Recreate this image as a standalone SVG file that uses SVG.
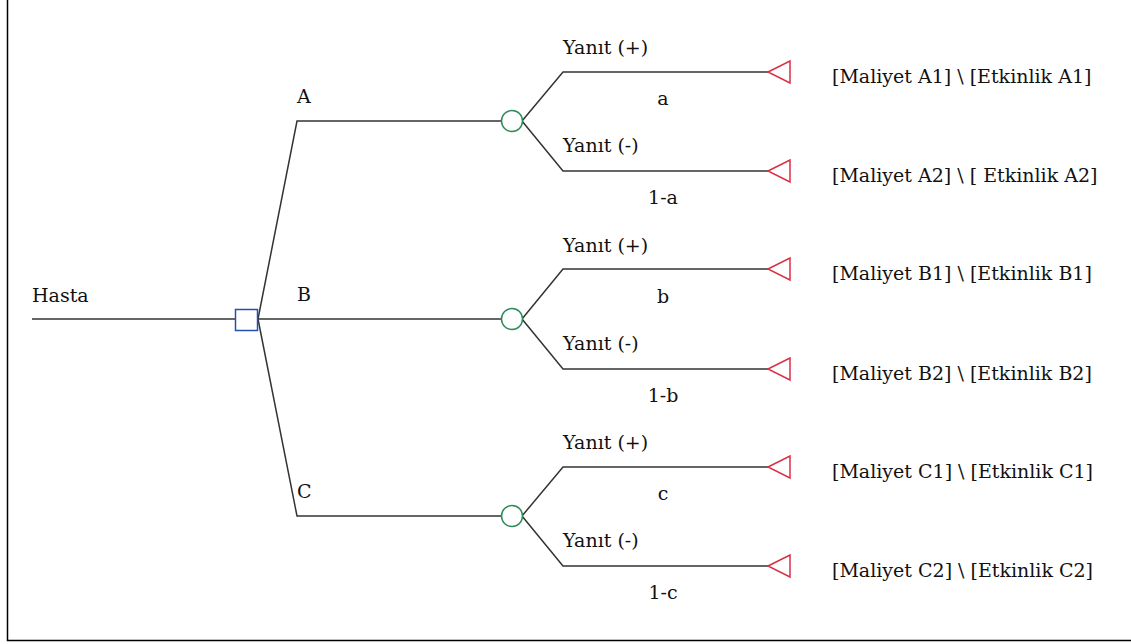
<svg xmlns="http://www.w3.org/2000/svg" width="1131" height="644" viewBox="0 0 1131 644">
<style>
text{font-family:"DejaVu Serif","Liberation Serif",serif;font-size:19px;fill:#111}
.ln{fill:none;stroke:#333;stroke-width:1.5}
.chance{fill:#fff;stroke:#2e8b57;stroke-width:1.5}
.term{fill:#fff;stroke:#d93045;stroke-width:1.5}
.dec{fill:#fff;stroke:#2450b4;stroke-width:1.5}
.mid{text-anchor:middle}
</style>
<g id="frame"><path d="M7.5,0 V640.5 H1131" fill="none" stroke="#000" stroke-width="1.5"/></g>
<g id="connectors">
<path class="ln" d="M32,319 H235"/>
<path class="ln" d="M258,319 L297,121 H502"/>
<path class="ln" d="M258,319 H502"/>
<path class="ln" d="M258,319 L297,516 H502"/>
<path class="ln" d="M522,121 L563,72 H768 M522,121 L563,171 H768"/>
<path class="ln" d="M522,319 L563,269 H768 M522,319 L563,369 H768"/>
<path class="ln" d="M522,516 L563,467 H768 M522,516 L563,566 H768"/>
</g>
<g id="root"><text x="32" y="302">Hasta</text></g>
<g id="decision"><rect class="dec" x="235.5" y="309.5" width="22" height="21"/></g>
<g id="branch-labels">
<text x="297" y="103">A</text>
<text x="297" y="301">B</text>
<text x="297" y="498">C</text>
</g>
<g id="chanceA">
<circle class="chance" cx="512" cy="121" r="10.5"/>
<text x="563" y="54">Yanıt (+)</text>
<text class="mid" x="663" y="105">a</text>
<text x="563" y="152">Yanıt (-)</text>
<text class="mid" x="663" y="204">1-a</text>
</g>
<g id="chanceB">
<circle class="chance" cx="512" cy="319" r="10.5"/>
<text x="563" y="252">Yanıt (+)</text>
<text class="mid" x="663" y="303">b</text>
<text x="563" y="350">Yanıt (-)</text>
<text class="mid" x="663" y="402">1-b</text>
</g>
<g id="chanceC">
<circle class="chance" cx="512" cy="516" r="10.5"/>
<text x="563" y="449">Yanıt (+)</text>
<text class="mid" x="663" y="500">c</text>
<text x="563" y="547">Yanıt (-)</text>
<text class="mid" x="663" y="599">1-c</text>
</g>
<g id="terminalA1"><path class="term" d="M768,72 L790,61 V83 Z"/><text x="832" y="83">[Maliyet A1] \ [Etkinlik A1]</text></g>
<g id="terminalA2"><path class="term" d="M768,171 L790,160 V182 Z"/><text x="832" y="182">[Maliyet A2] \ [ Etkinlik A2]</text></g>
<g id="terminalB1"><path class="term" d="M768,269 L790,258 V280 Z"/><text x="832" y="280">[Maliyet B1] \ [Etkinlik B1]</text></g>
<g id="terminalB2"><path class="term" d="M768,369 L790,358 V380 Z"/><text x="832" y="380">[Maliyet B2] \ [Etkinlik B2]</text></g>
<g id="terminalC1"><path class="term" d="M768,467 L790,456 V478 Z"/><text x="832" y="478">[Maliyet C1] \ [Etkinlik C1]</text></g>
<g id="terminalC2"><path class="term" d="M768,566 L790,555 V577 Z"/><text x="832" y="577">[Maliyet C2] \ [Etkinlik C2]</text></g>
</svg>
